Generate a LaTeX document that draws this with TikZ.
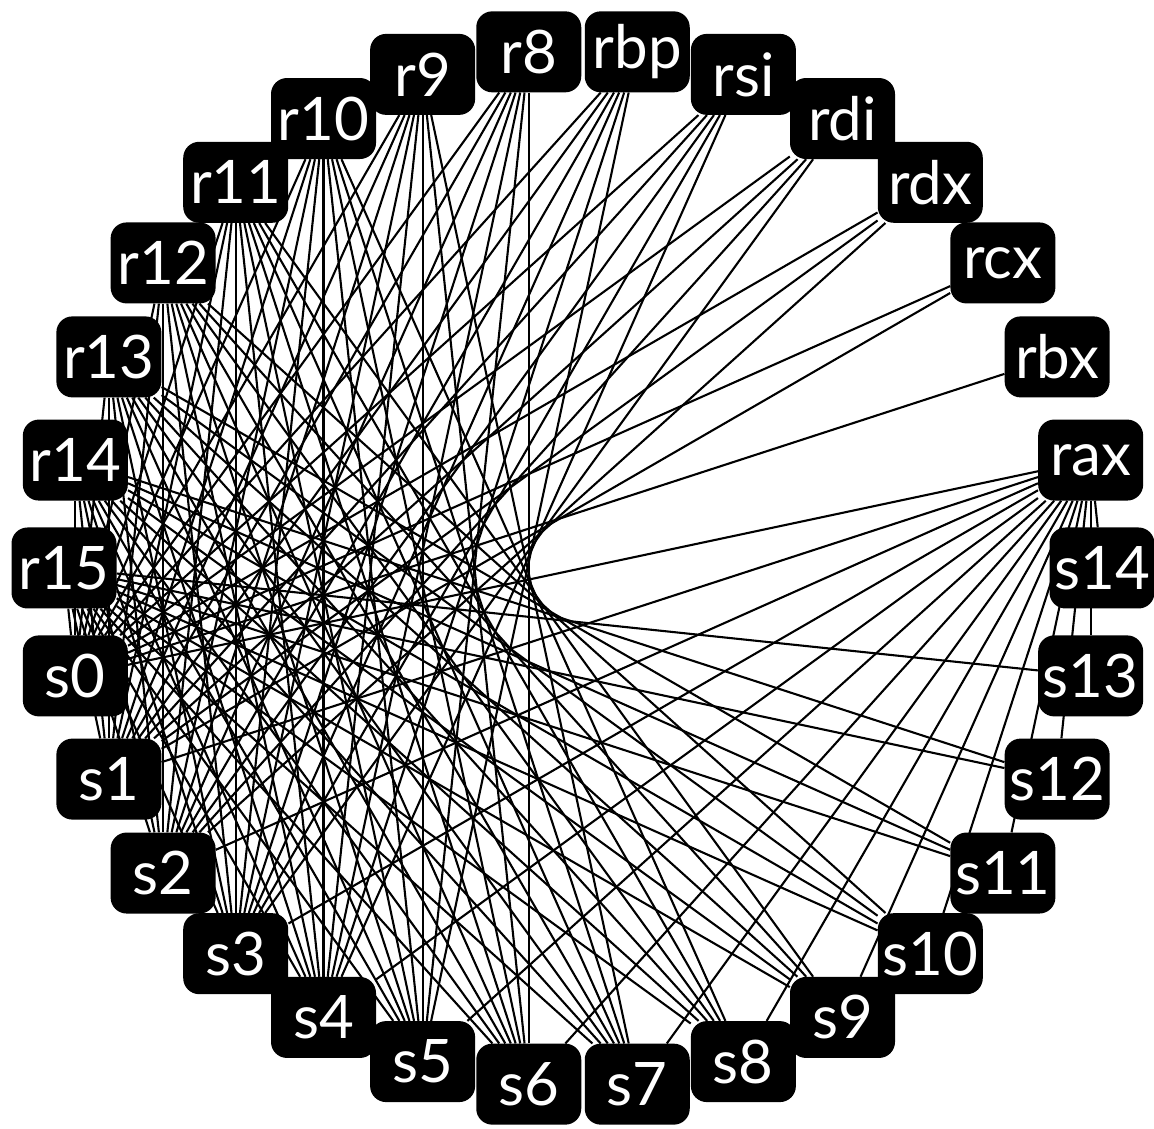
\documentclass[tikz,border=0pt]{standalone}
\usepackage{fontspec}
\setmainfont{Lato}
\pgfdeclarelayer{bg}
\pgfsetlayers{bg,main}
\tikzset{
  regnode/.style={fill=black, text=white, rounded corners=16pt, minimum width=105pt, minimum height=81pt, inner sep=0pt, font=\fontsize{60}{64}\selectfont},
  edgeline/.style={draw=black, line width=2.1pt}
}
\begin{document}
\begin{tikzpicture}[x=1pt,y=1pt]
\useasboundingbox (0,0) rectangle (1154,1129);
\foreach \n [count=\k from 0] in {s14,rax,rbx,rcx,rdx,rdi,rsi,rbp,r8,r9,r10,r11,r12,r13,r14,r15,s0,s1,s2,s3,s4,s5,s6,s7,s8,s9,s10,s11,s12,s13}
  \node[regnode] (\n) at ({583+519*cos(12*\k)},{561+519*sin(12*\k)}) {\n};
\begin{pgfonlayer}{bg}
\foreach \k in {0,...,14}
  \draw[edgeline] (rax) -- (s\k);
\foreach \r [count=\i from 1] in {rbx,rcx,rdx,rdi,rsi,rbp,r8,r9,r10,r11,r12,r13,r14,r15}{
  \pgfmathtruncatemacro{\lim}{\i-1}
  \foreach \k in {0,...,\lim}
    \draw[edgeline] (\r) -- (s\k);
}
\end{pgfonlayer}
\end{tikzpicture}
\end{document}
